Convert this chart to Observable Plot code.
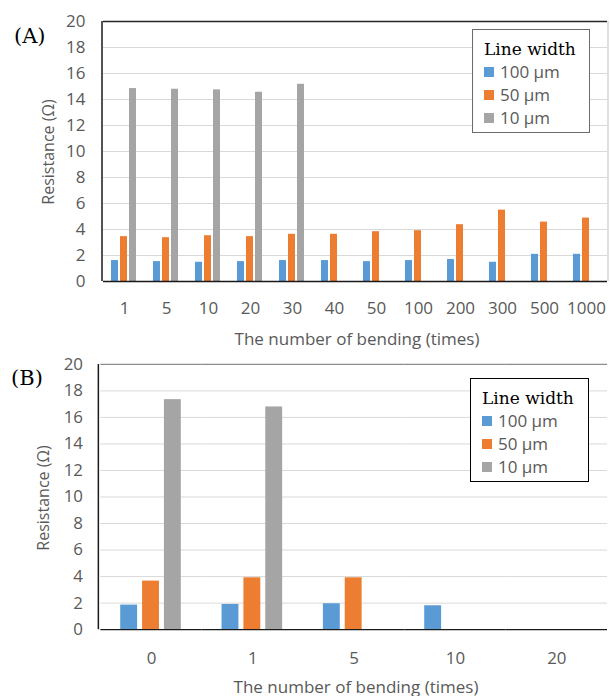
<!DOCTYPE html>
<html><head><meta charset="utf-8">
<script src="https://cdn.jsdelivr.net/npm/d3@7"></script>
<script src="https://cdn.jsdelivr.net/npm/@observablehq/plot@0.6"></script>
<style>
body{margin:0;background:#fff;}
#root{position:relative;width:610px;height:696px;overflow:hidden;background:#fff;font-family:"Open Sans",sans-serif;color:#595959;}
.abs{position:absolute;white-space:nowrap;line-height:1;}
.panel{position:absolute;left:0;}
.tag{font-family:"DejaVu Serif",serif;font-size:21px;color:#000;}
.xt{font-size:17px;transform:translate(-50%,-50%);}
.yt{font-size:16px;transform:translate(-50%,-50%) rotate(-90deg);}
.legend{position:absolute;background:#fff;box-sizing:border-box;}
.legend .ttl{font-family:"DejaVu Serif",serif;font-size:17px;color:#000;height:22px;line-height:22px;}
.legend .item{height:23px;display:flex;align-items:center;font-size:17px;color:#595959;}
.legend .sw{width:10px;height:10px;margin-right:6px;}
</style>
</head><body>
<div id="root"></div>
<script>
// ---- data ----
const series = ["100 μm", "50 μm", "10 μm"];
const colors = ["#5B9BD5", "#ED7D31", "#A5A5A5"];
const yGrid = [2, 4, 6, 8, 10, 12, 14, 16, 18];
const yTop = [20];

const catsA = ["1", "5", "10", "20", "30", "40", "50", "100", "200", "300", "500", "1000"];
const w100A = [1.61, 1.53, 1.48, 1.53, 1.61, 1.61, 1.53, 1.61, 1.69, 1.48, 2.09, 2.09];
const w50A  = [3.45, 3.37, 3.52, 3.45, 3.63, 3.63, 3.83, 3.91, 4.37, 5.49, 4.57, 4.88];
const w10A  = [14.84, 14.79, 14.74, 14.56, 15.17, null, null, null, null, null, null, null];

const catsB = ["0", "1", "5", "10", "20"];
const w100B = [1.85, 1.90, 1.95, 1.80, null];
const w50B  = [3.66, 3.91, 3.91, null, null];
const w10B  = [17.34, 16.79, null, null, null];

const xTitle = "The number of bending (times)";
const yTitle = "Resistance (Ω)";
const legendTitle = "Line width";

const root = document.getElementById("root");

function makeRows(cats, vals) {
  return cats.flatMap((c, i) => series.map((s, j) => ({cat: c, series: s, value: vals[j][i]})));
}

function panel(o) {
  const rows = makeRows(o.cats, o.vals);
  const chart = Plot.plot({
    width: o.width, height: o.height,
    marginLeft: o.mL, marginRight: o.mR, marginTop: o.mT, marginBottom: o.mB,
    style: {fontFamily: "'Open Sans', sans-serif", fontSize: "17px", color: "#595959", background: "transparent", overflow: "visible"},
    facet: {data: rows, x: "cat", marginTop: 0, marginBottom: 0, marginLeft: 0, marginRight: 0},
    fx: {domain: o.cats, padding: 0, axis: "bottom", tickSize: 0, tickPadding: o.tickPad, label: null},
    x: {domain: series, axis: null, paddingInner: o.pIn, paddingOuter: o.pOut},
    y: {domain: [0, 20], ticks: 10, tickSize: 0, tickPadding: 18, label: null},
    color: {domain: series, range: colors},
    marks: [
      Plot.ruleY(yGrid, {stroke: "#d9d9d9", strokeWidth: 1}),
      Plot.barY(rows, {x: "series", y: "value", fill: "series"}),
      Plot.ruleY(yTop, {stroke: o.topColor, strokeWidth: 1.5}),
      Plot.ruleY([0], {stroke: "#1a1a1a", strokeWidth: 1.5})
    ]
  });
  const div = document.createElement("div");
  div.className = "panel";
  div.style.top = o.top + "px";
  div.appendChild(chart);
  root.appendChild(div);
  const y = chart.scale("y");
  const svg = d3.select(chart);
  svg.append("line").attr("x1", o.mL).attr("x2", o.mL)
    .attr("y1", y.apply(20)).attr("y2", y.apply(0))
    .attr("stroke", "#1a1a1a").attr("stroke-width", 1.5);
  if (o.rightColor) {
    svg.append("line").attr("x1", o.width - o.mR).attr("x2", o.width - o.mR)
      .attr("y1", y.apply(20)).attr("y2", y.apply(0))
      .attr("stroke", o.rightColor).attr("stroke-width", 1);
  }
}

function addText(cls, text, x, y, extra) {
  const d = document.createElement("div");
  d.className = "abs " + cls;
  d.textContent = text;
  d.style.left = x + "px";
  d.style.top = y + "px";
  if (extra) Object.assign(d.style, extra);
  root.appendChild(d);
}

function legend(x, y, w, h, border) {
  const lg = document.createElement("div");
  lg.className = "legend";
  Object.assign(lg.style, {left: x + "px", top: y + "px", width: w + "px", height: h + "px", border: border, paddingTop: "8px", paddingLeft: "11px"});
  const t = document.createElement("div");
  t.className = "ttl"; t.textContent = legendTitle;
  lg.appendChild(t);
  series.forEach((s, i) => {
    const it = document.createElement("div");
    it.className = "item";
    const sw = document.createElement("span");
    sw.className = "sw"; sw.style.background = colors[i];
    it.appendChild(sw);
    it.appendChild(document.createTextNode(s));
    lg.appendChild(it);
  });
  root.appendChild(lg);
}

// Panel A
panel({cats: catsA, vals: [w100A, w50A, w10A], top: 0, width: 610, height: 350,
  mL: 102, mR: 2, mT: 21, mB: 69, tickPad: 20, pIn: 0.19, pOut: 0.885,
  topColor: "#262626", rightColor: "#bfbfbf"});
// Panel B
panel({cats: catsB, vals: [w100B, w50B, w10B], top: 345, width: 614, height: 351,
  mL: 99, mR: 1, mT: 19, mB: 65, tickPad: 23, pIn: 0.22, pOut: 0.845,
  topColor: "#8c8c8c", rightColor: null});

addText("tag", "(A)", 14, 26);
addText("tag", "(B)", 11, 368);
addText("xt", xTitle, 357, 338);
addText("xt", xTitle, 356, 686);
addText("yt", yTitle, 48, 152);
addText("yt", yTitle, 43, 498);

legend(472, 29, 118, 104, "1.5px solid #6b6b6b");
legend(470, 378, 119, 104, "1.5px solid #000");
</script>
</body></html>
